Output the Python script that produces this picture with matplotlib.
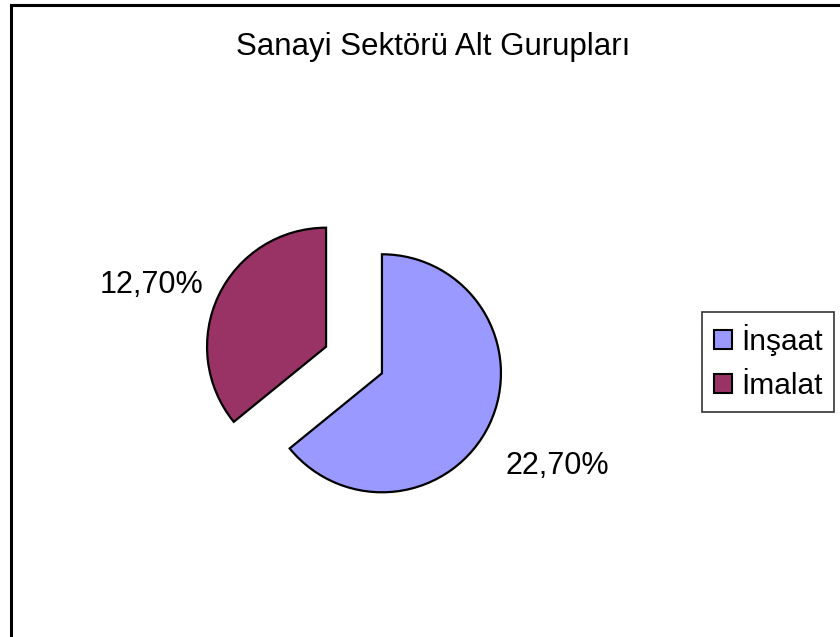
import matplotlib.pyplot as plt
from matplotlib.patches import Rectangle

plt.rcParams['font.family'] = ['Liberation Sans', 'DejaVu Sans']

# veri
kategoriler = ['İnşaat', 'İmalat']
degerler = [22.7, 12.7]
etiketler = ['22,70%', '12,70%']
renkler = ['#9999FF', '#993366']

fig = plt.figure(figsize=(8.4, 6.37), dpi=100)

# dis cerceve (sag ve alt kenar resmin disinda kaliyor)
fig.patches.append(Rectangle((11 / 840, -0.1), 1.0, 1 - 5 / 637 + 0.1,
                             transform=fig.transFigure, fill=False,
                             edgecolor='black', linewidth=2.2))

# pasta: merkez ~ (354, 360) px, yaricap ~ 119 px
W = 300
ax = fig.add_axes([(354 - W / 2) / 840, (637 - 360 - W / 2) / 637, W / 840, W / 637])
wedges, _ = ax.pie(degerler, colors=renkler, startangle=90, counterclock=False,
                   explode=[0.26, 0.26], radius=1.0,
                   wedgeprops=dict(edgecolor='black', linewidth=1.6))
ax.set_xlim(-W / 2 / 119, W / 2 / 119)
ax.set_ylim(-W / 2 / 119, W / 2 / 119)
ax.set_aspect('equal')
ax.axis('off')

# yuzde etiketleri
ax.text(1.71, -0.89, etiketler[0], ha='center', va='center', fontsize=22)
ax.text(-1.70, 0.63, etiketler[1], ha='center', va='center', fontsize=22)

fig.text(433 / 840, 1 - 47 / 637, 'Sanayi Sektörü Alt Gurupları',
         ha='center', va='center', fontsize=22.5)

leg = fig.legend(wedges, kategoriler, loc='upper left',
                 bbox_to_anchor=(702 / 840, 1 - 312 / 637),
                 fontsize=21.5, frameon=True, fancybox=False,
                 handlelength=0.6, handleheight=0.6, handletextpad=0.3,
                 borderpad=0.4, labelspacing=0.55, borderaxespad=0)
leg.get_frame().set_edgecolor('black')
leg.get_frame().set_linewidth(1.2)
for h in leg.legend_handles:
    h.set_linewidth(1.5)

fig.savefig('out.png', dpi=100)
